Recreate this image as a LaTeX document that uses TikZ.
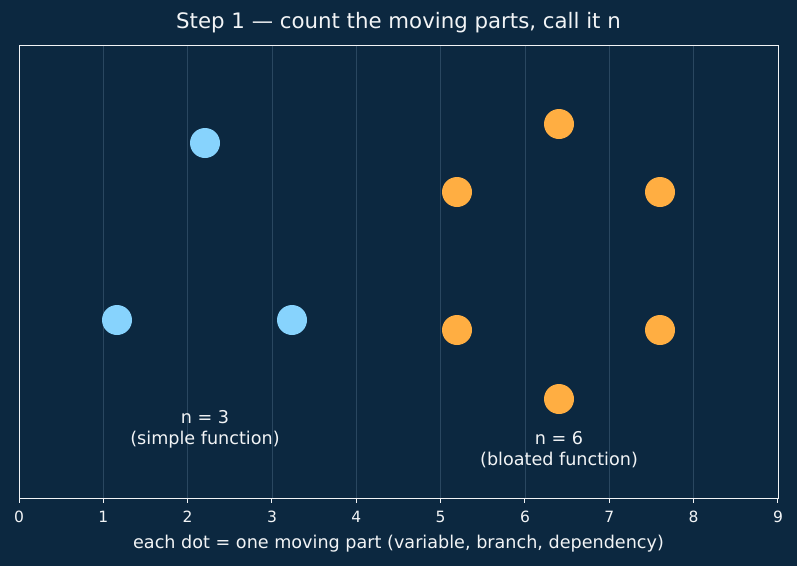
\documentclass[tikz,border=0pt]{standalone}
\usepackage{fontspec}
\setmainfont{DejaVu Sans}
\definecolor{bg}{HTML}{0C2840}
\definecolor{gridc}{HTML}{2A4760}
\definecolor{dotblue}{HTML}{87D3FD}
\definecolor{dotorange}{HTML}{FFAE42}
\definecolor{txt}{HTML}{F2F4F6}
\begin{document}
\begin{tikzpicture}[x=1pt,y=-1pt,
  bluedot/.style={circle,fill=dotblue,minimum size=30pt,inner sep=0pt},
  orangedot/.style={circle,fill=dotorange,minimum size=30pt,inner sep=0pt},
  ticklab/.style={text=txt,font=\fontsize{15.5}{18}\selectfont,anchor=north,inner sep=0pt},
  lab/.style={text=txt,font=\fontsize{17.6}{21}\selectfont,align=center}]
\fill[bg] (0,0) rectangle (797,566);
\useasboundingbox (0,0) rectangle (797,566);
% grid
\foreach \i in {1,...,8} {
  \draw[gridc,line width=0.8pt] ({19+\i*84.33},45) -- ({19+\i*84.33},498);
}
% frame
\draw[txt,line width=1pt] (19,45) rectangle (778,498);
% ticks
\foreach \i in {0,...,9} {
  \draw[txt,line width=1pt] ({19+\i*84.33},498) -- ({19+\i*84.33},503);
  \node[ticklab] (t\i) at ({19+\i*84.33},511) {\i};
}
% title
\node[text=txt,font=\fontsize{21.3}{25}\selectfont] (title) at (398.5,23) {Step 1 — count the moving parts, call it n};
% xlabel
\node[text=txt,font=\fontsize{17.6}{21}\selectfont] (xlab) at (398.5,544) {each dot = one moving part (variable, branch, dependency)};
% dots
\node[bluedot] (b1) at (205,143) {};
\node[bluedot] (b2) at (117,320) {};
\node[bluedot] (b3) at (292,320) {};
\node[orangedot] (o1) at (559,124) {};
\node[orangedot] (o2) at (457,192) {};
\node[orangedot] (o3) at (660,192) {};
\node[orangedot] (o4) at (457,330) {};
\node[orangedot] (o5) at (660,330) {};
\node[orangedot] (o6) at (559,399) {};
% labels
\node[lab] (l1) at (205,429.5) {n = 3\\(simple function)};
\node[lab] (l2) at (559,449.5) {n = 6\\(bloated function)};
\end{tikzpicture}
\end{document}
